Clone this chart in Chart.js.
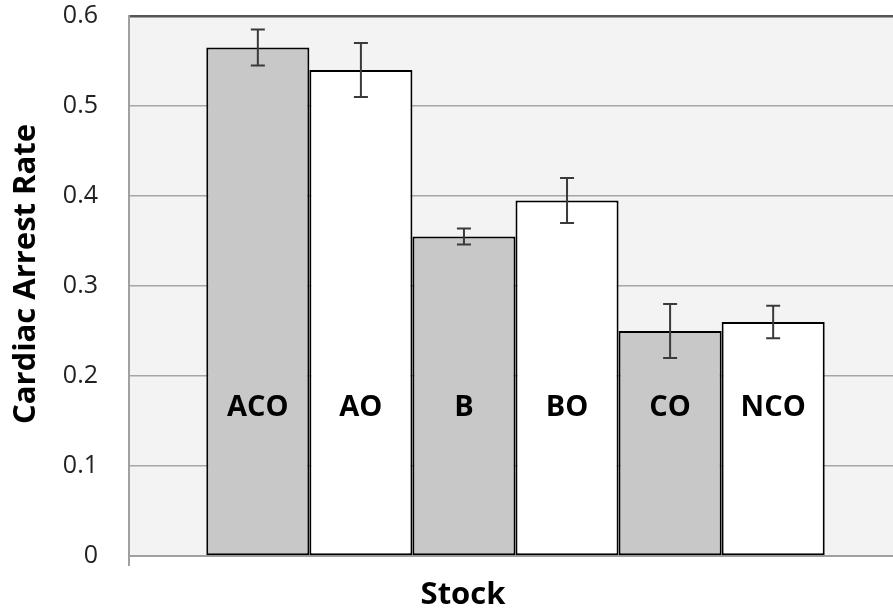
<!DOCTYPE html>
<html>
<head>
    <meta charset="utf-8">
    <script src="https://cdn.jsdelivr.net/npm/chart.js@4/dist/chart.umd.min.js"></script>
    <style>
        html, body { margin: 0; padding: 0; background: #fff; overflow: hidden; }
        #wrap { width: 910px; height: 615px; }
    </style>
</head>
<body>
<div id="wrap"><canvas id="myChart"></canvas></div>

<script>
    // data
    var stocks = ['ACO', 'AO', 'B', 'BO', 'CO', 'NCO'];
    var rates = [0.565, 0.54, 0.355, 0.395, 0.25, 0.26];
    var errors = [0.02, 0.03, 0.009, 0.025, 0.03, 0.018];
    var barColors = ['#c8c8c8', '#ffffff', '#c8c8c8', '#ffffff', '#c8c8c8', '#ffffff'];
    var yTicks = [0, 0.1, 0.2, 0.3, 0.4, 0.5, 0.6];
    var labelLevel = 0.165;

    var datasets = stocks.map(function (name, i) {
        return {
            label: name,
            data: [rates[i]],
            err: errors[i],
            backgroundColor: barColors[i],
            borderColor: '#000',
            borderWidth: 2,
            borderSkipped: false
        };
    });

    // error bars + names inside bars
    var extras = {
        id: 'extras',
        afterDatasetsDraw: function (chart) {
            var ctx = chart.ctx;
            var y = chart.scales.y;
            ctx.save();
            chart.data.datasets.forEach(function (ds, i) {
                var bar = chart.getDatasetMeta(i).data[0];
                var v = ds.data[0];
                var top = y.getPixelForValue(v + ds.err);
                var bot = y.getPixelForValue(v - ds.err);
                ctx.strokeStyle = '#3a3a3a';
                ctx.lineWidth = 2;
                ctx.beginPath();
                ctx.moveTo(bar.x, top); ctx.lineTo(bar.x, bot);
                ctx.moveTo(bar.x - 7, top); ctx.lineTo(bar.x + 7, top);
                ctx.moveTo(bar.x - 7, bot); ctx.lineTo(bar.x + 7, bot);
                ctx.stroke();

                ctx.fillStyle = '#000';
                ctx.font = 'bold 29px "Open Sans"';
                ctx.textAlign = 'center';
                ctx.textBaseline = 'middle';
                ctx.fillText(ds.label, bar.x, y.getPixelForValue(labelLevel));
            });
            ctx.restore();
        },
        afterDraw: function (chart) {
            var ctx = chart.ctx;
            ctx.save();
            ctx.fillStyle = '#000';
            ctx.font = 'bold 31px "Open Sans"';
            ctx.textAlign = 'center';
            ctx.textBaseline = 'middle';
            ctx.fillText('Stock', chart.chartArea.left + 334, 595);
            ctx.translate(26, 274);
            ctx.rotate(-Math.PI / 2);
            ctx.fillText('Cardiac Arrest Rate', 0, 0);
            ctx.restore();
        }
    };

    var plotBg = {
        id: 'plotBg',
        beforeDraw: function (chart) {
            var a = chart.chartArea;
            chart.ctx.save();
            chart.ctx.fillStyle = '#f3f3f3';
            chart.ctx.fillRect(a.left, a.top, a.right - a.left, a.bottom - a.top);
            chart.ctx.restore();
        }
    };

    var ctx = document.getElementById('myChart');
    var myChart = new Chart(ctx, {
        type: 'bar',
        data: {
            labels: [''],
            datasets: datasets
        },
        options: {
            responsive: true,
            maintainAspectRatio: false,
            animation: false,
            categoryPercentage: 0.8,
            barPercentage: 1,
            layout: { padding: { top: 16, right: 8, left: 0, bottom: 0 } },
            plugins: {
                legend: { display: false },
                tooltip: { enabled: false }
            },
            scales: {
                x: {
                    afterFit: function (s) {
                        s.height = 59;
                        s.paddingLeft = 0; s.paddingRight = 0;
                    },
                    grid: {
                        offset: true,
                        drawOnChartArea: false,
                        drawTicks: true,
                        tickLength: 10,
                        color: '#a0a0a0',
                        lineWidth: 2
                    },
                    border: { color: '#a0a0a0', width: 2 },
                    ticks: { display: false }
                },
                y: {
                    min: 0,
                    max: 0.6,
                    afterFit: function (s) {
                        s.width = 129;
                        s.paddingTop = 0; s.paddingBottom = 0;
                    },
                    afterBuildTicks: function (s) {
                        s.ticks = yTicks.map(function (v) { return { value: v }; });
                    },
                    grid: {
                        drawTicks: false,
                        color: function (c) { return c.tick && c.tick.value === 0.6 ? '#555' : '#a6a6a6'; },
                        lineWidth: function (c) { return c.tick && c.tick.value === 0.6 ? 2.5 : 1.5; }
                    },
                    border: { color: '#a0a0a0', width: 2 },
                    ticks: {
                        padding: 31,
                        color: '#222',
                        font: { family: 'Open Sans', size: 25 },
                        callback: function (v) { return String(Math.round(v * 10) / 10); }
                    }
                }
            }
        },
        plugins: [plotBg, extras]
    });
</script>
</body>
</html>
